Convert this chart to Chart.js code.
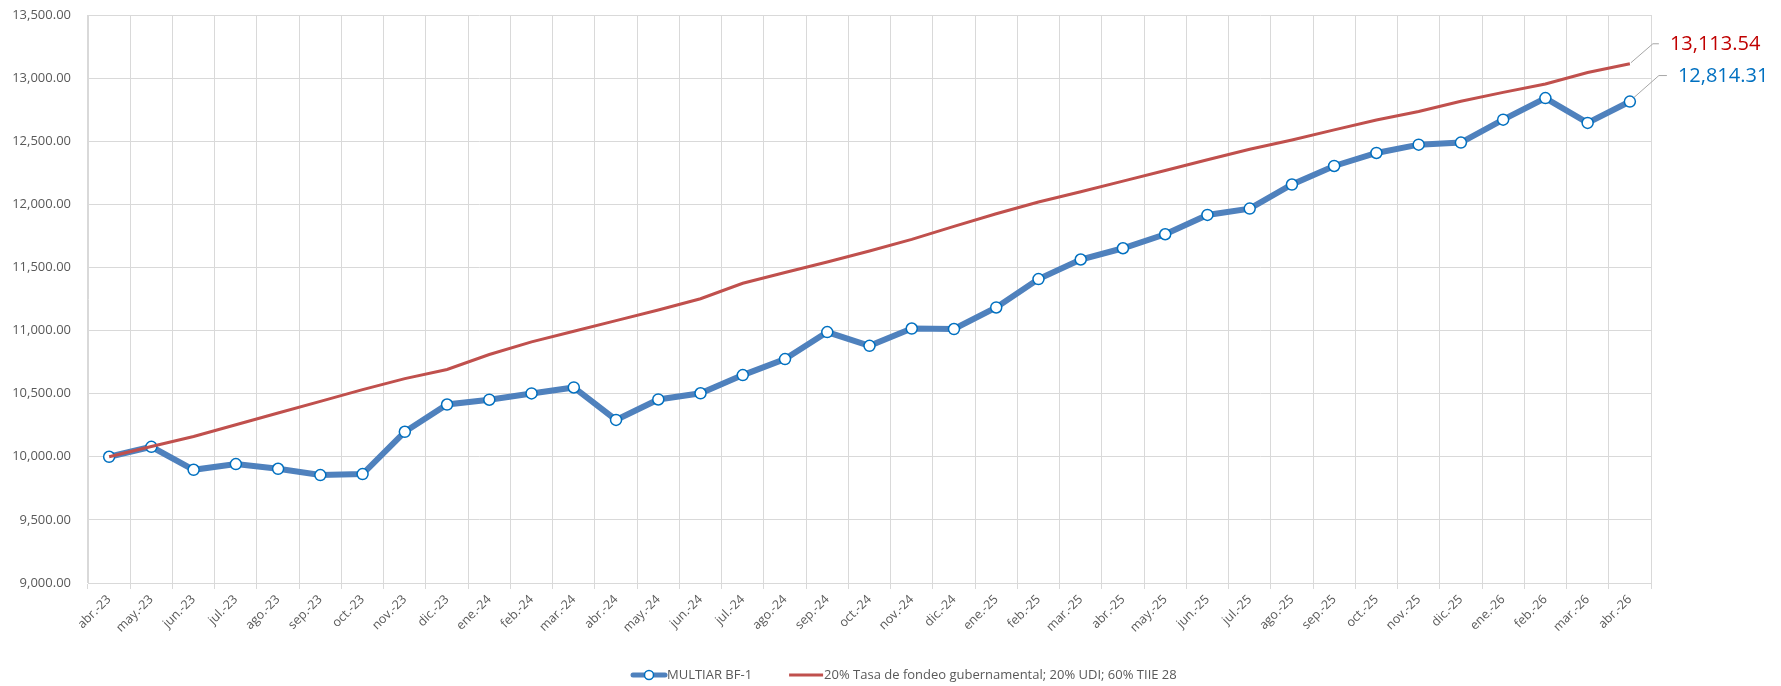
<!DOCTYPE html>
<html>
<head>
<meta charset="utf-8">
<script src="https://cdn.jsdelivr.net/npm/chart.js@4.4.1/dist/chart.umd.min.js"></script>
<style>
  html, body { margin: 0; padding: 0; background: #ffffff; }
  #wrap { width: 1781px; height: 686px; }
</style>
</head>
<body>
<div id="wrap"><canvas id="c" width="1781" height="686"></canvas></div>
<script>
const categories = ['abr.-23','may.-23','jun.-23','jul.-23','ago.-23','sep.-23','oct.-23','nov.-23','dic.-23',
  'ene.-24','feb.-24','mar.-24','abr.-24','may.-24','jun.-24','jul.-24','ago.-24','sep.-24','oct.-24','nov.-24','dic.-24',
  'ene.-25','feb.-25','mar.-25','abr.-25','may.-25','jun.-25','jul.-25','ago.-25','sep.-25','oct.-25','nov.-25','dic.-25',
  'ene.-26','feb.-26','mar.-26','abr.-26'];

const seriesNames = ['MULTIAR BF-1', '20% Tasa de fondeo gubernamental; 20% UDI; 60% TIIE 28'];

const multiar = [10000, 10079, 9897, 9942, 9905, 9855, 9863, 10198, 10414, 10452, 10502, 10549,
  10292, 10454, 10503, 10647, 10774, 10988, 10879, 11016, 11012, 11183, 11408, 11563,
  11652, 11763, 11916, 11966, 12157, 12304, 12407, 12473, 12489, 12671, 12842, 12645, 12814.31];

const benchmark = [10000, 10082, 10161, 10254, 10347, 10439, 10532, 10619, 10692, 10810, 10910, 10995,
  11079, 11163, 11252, 11375, 11460, 11543, 11630, 11722, 11825, 11925, 12018, 12100,
  12184, 12268, 12353, 12436, 12510, 12590, 12668, 12736, 12816, 12887, 12953, 13045, 13113.54];

const yMin = 9000, yMax = 13500, yStep = 500;

const FONT = '"Open Sans", "Noto Sans", sans-serif';
const fmt = v => Number(v).toLocaleString('en-US', {minimumFractionDigits: 2, maximumFractionDigits: 2});

const endLabels = {
  id: 'endLabels',
  afterDatasetsDraw(chart) {
    const ctx = chart.ctx;
    const cfgs = [
      {ds: 1, color: '#c00000', start: [1, -1], mid: [23, -20], end: [29, -20], text: [40, -19]},
      {ds: 0, color: '#0070c0', start: [4, -4], mid: [29, -26], end: [37, -26], text: [48, -25]}
    ];
    ctx.save();
    cfgs.forEach(c => {
      const meta = chart.getDatasetMeta(c.ds);
      const pt = meta.data[meta.data.length - 1];
      const data = chart.data.datasets[c.ds].data;
      const val = data[data.length - 1];
      ctx.strokeStyle = '#a6a6a6';
      ctx.lineWidth = 1;
      ctx.beginPath();
      ctx.moveTo(pt.x + c.start[0], pt.y + c.start[1]);
      ctx.lineTo(pt.x + c.mid[0], pt.y + c.mid[1]);
      ctx.lineTo(pt.x + c.end[0], pt.y + c.end[1]);
      ctx.stroke();
      ctx.fillStyle = c.color;
      ctx.font = '20px ' + FONT;
      ctx.textAlign = 'left';
      ctx.textBaseline = 'middle';
      ctx.fillText(fmt(val), pt.x + c.text[0], pt.y + c.text[1]);
    });
    ctx.restore();
  }
};

const customLegend = {
  id: 'customLegend',
  afterDraw(chart) {
    const ctx = chart.ctx;
    const y = 675;
    let x = 631;
    ctx.save();
    ctx.font = '13px ' + FONT;
    ctx.textBaseline = 'middle';
    ctx.textAlign = 'left';
    ctx.strokeStyle = '#4f81bd';
    ctx.lineWidth = 5;
    ctx.lineCap = 'round';
    ctx.beginPath(); ctx.moveTo(x + 2, y); ctx.lineTo(x + 34, y); ctx.stroke();
    ctx.beginPath(); ctx.arc(x + 18, y, 4.5, 0, Math.PI * 2);
    ctx.fillStyle = '#ffffff'; ctx.fill();
    ctx.lineWidth = 1.5; ctx.strokeStyle = '#0070c0'; ctx.stroke();
    x += 36;
    ctx.fillStyle = '#595959';
    ctx.fillText(seriesNames[0], x, y);
    x += ctx.measureText(seriesNames[0]).width + 37;
    ctx.strokeStyle = '#c0504d';
    ctx.lineWidth = 3;
    ctx.lineCap = 'butt';
    ctx.beginPath(); ctx.moveTo(x, y); ctx.lineTo(x + 34, y); ctx.stroke();
    x += 35;
    ctx.fillStyle = '#595959';
    ctx.fillText(seriesNames[1], x, y);
    ctx.restore();
  }
};

new Chart(document.getElementById('c'), {
  type: 'line',
  data: {
    labels: categories,
    datasets: [
      {
        label: seriesNames[0],
        data: multiar,
        borderColor: '#4f81bd',
        borderWidth: 6,
        pointRadius: 5.5,
        pointBorderWidth: 1.5,
        pointBackgroundColor: '#ffffff',
        pointBorderColor: '#0070c0',
        tension: 0,
        order: 1
      },
      {
        label: seriesNames[1],
        data: benchmark,
        borderColor: '#c0504d',
        borderWidth: 3,
        pointRadius: 0,
        tension: 0,
        order: 0
      }
    ]
  },
  options: {
    responsive: false,
    animation: false,
    devicePixelRatio: 1,
    layout: { padding: { top: 15, right: 130, bottom: 0, left: 0 } },
    plugins: {
      legend: { display: false },
      tooltip: { enabled: false }
    },
    scales: {
      x: {
        type: 'category',
        offset: true,
        grid: { offset: true, color: '#d9d9d9', tickLength: 6, tickColor: '#d9d9d9', lineWidth: 1 },
        border: { color: '#d9d9d9' },
        ticks: {
          autoSkip: false, maxRotation: 45, minRotation: 45,
          color: '#595959', font: { family: FONT, size: 12.5 }, padding: 3
        },
        afterFit(scale) { scale.height = 103; }
      },
      y: {
        min: yMin, max: yMax,
        grid: { color: '#d9d9d9', drawTicks: false, lineWidth: 1 },
        border: { color: '#d9d9d9' },
        ticks: {
          stepSize: yStep,
          color: '#595959', font: { family: FONT, size: 13 }, padding: 17,
          callback: v => fmt(v)
        },
        afterFit(scale) { scale.width = 88; scale.paddingTop = 0; scale.paddingBottom = 0; }
      }
    }
  },
  plugins: [endLabels, customLegend]
});
</script>
</body>
</html>
